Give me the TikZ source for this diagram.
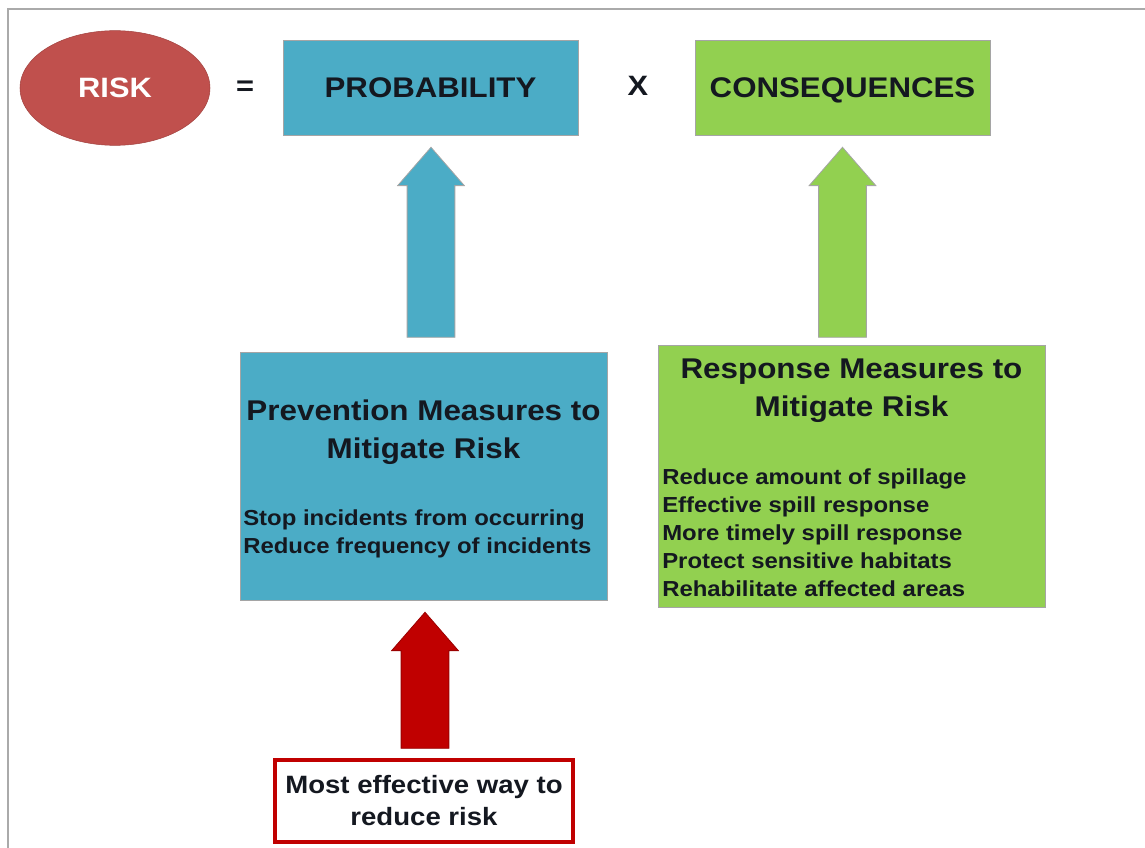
\documentclass[tikz,border=0pt]{standalone}
\usepackage{fontspec}
\setmainfont{Liberation Sans}[FakeStretch=1.1]
\usetikzlibrary{
    shapes.geometric,
    shapes.arrows,
    positioning,
    calc
}
\definecolor{ink}{RGB}{20,24,32}
\definecolor{edgegrey}{RGB}{165,165,165}
\definecolor{framegrey}{RGB}{170,170,170}
\definecolor{riskred}{RGB}{192,80,77}
\definecolor{alertred}{RGB}{192,0,0}
\definecolor{probblue}{RGB}{75,172,198}
\definecolor{consgreen}{RGB}{146,208,80}
\tikzset{
    riskoval/.style={
        ellipse,
        fill=riskred,
        draw=riskred!85!black,
        line width=0.4pt,
        minimum width=142.5pt,
        minimum height=86pt,
        text=white,
        font=\bfseries\fontsize{21}{24}\selectfont
    },
    opsign/.style={
        text=ink,
        font=\bfseries\fontsize{21}{24}\selectfont
    },
    topbox/.style={
        rectangle,
        draw=edgegrey,
        line width=0.6pt,
        minimum width=221.25pt,
        minimum height=71.25pt,
        text height=15.3pt,
        text depth=0pt,
        text=ink,
        font=\bfseries\fontsize{21.3}{26}\selectfont
    },
    bigbox/.style={
        rectangle,
        draw=edgegrey,
        line width=0.6pt
    },
    boxtitle/.style={
        align=center,
        text=ink,
        inner sep=0pt,
        font=\bfseries\fontsize{21.4}{28.4}\selectfont
    },
    boxbody/.style={
        align=left,
        anchor=west,
        text=ink,
        inner sep=0pt,
        font=\bfseries\fontsize{16.3}{21}\selectfont
    },
    blockarrow/.style={
        single arrow,
        rotate=90,
        draw=edgegrey,
        line width=0.6pt,
        inner xsep=0pt,
        inner ysep=17.6pt,
        minimum width=49.5pt,
        single arrow head extend=7.1pt,
        single arrow tip angle=82
    },
    notebox/.style={
        rectangle,
        draw=alertred,
        line width=3pt,
        fill=white,
        minimum width=223.5pt,
        minimum height=61.5pt,
        align=center,
        text=ink,
        font=\bfseries\fontsize{18.8}{24}\selectfont
    }
}

\begin{document}
\begin{tikzpicture}[x=0.75pt, y=-0.75pt]
\useasboundingbox (0,0) rectangle (1145,848);

% Slide frame
\draw[framegrey, line width=1.5pt] (8,848) -- (8,9) -- (1145,9);

% Equation row
\node[riskoval] (risk) at (115,88) {RISK};
\node[opsign] (eq) at (245,88) {=};
\node[topbox, fill=probblue] (prob) at (430.5,87.5) {PROBABILITY};
\node[opsign] (times) at (638,86) {X};
\node[topbox, fill=consgreen] (cons) at (842.5,87.5) {CONSEQUENCES};

% Measure boxes
\node[bigbox, fill=probblue, minimum width=275.25pt, minimum height=186pt] (prev) at (423.5,476) {};
\node[boxtitle] (prevtitle) at (423.5,432) {Prevention Measures to\\Mitigate Risk};
\node[boxbody] (prevbody) at (243,534) {Stop incidents from occurring\\Reduce frequency of incidents};

\node[bigbox, fill=consgreen, minimum width=290.25pt, minimum height=196.5pt] (resp) at (851.5,476) {};
\node[boxtitle] (resptitle) at (851.5,390.5) {Response Measures to\\Mitigate Risk};
\node[boxbody] (respbody) at (662,533) {Reduce amount of spillage\\Effective spill response\\More timely spill response\\Protect sensitive habitats\\Rehabilitate affected areas};

% Block arrows
\node[blockarrow, fill=probblue, minimum height=142.5pt] (probarrow) at (431,256) {};
\node[blockarrow, fill=consgreen, minimum height=142.5pt] (consarrow) at (842.5,256) {};
\node[blockarrow, fill=alertred, draw=alertred!80!black, minimum height=102pt] (notearrow) at (425,694) {};

% Note
\node[notebox] (note) at (424,801) {Most effective way to\\reduce risk};

\end{tikzpicture}
\end{document}
